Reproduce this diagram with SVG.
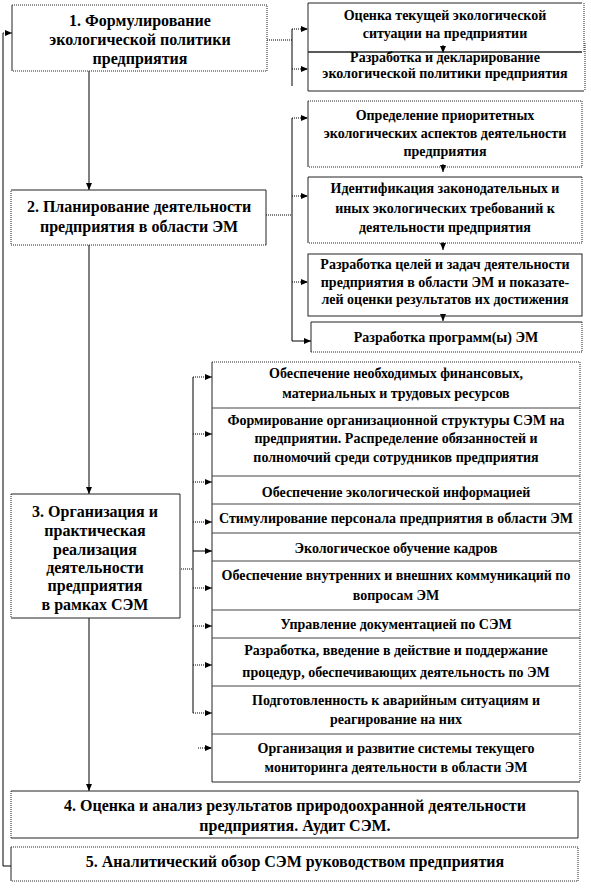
<svg xmlns="http://www.w3.org/2000/svg" width="591" height="888" viewBox="0 0 591 888" font-family="'Liberation Serif', 'DejaVu Serif', serif">
<style>
text{font-family:'Liberation Serif','DejaVu Serif',serif}
.t{font-weight:bold;fill:#000;text-anchor:middle}
.L{font-size:16px}
.R{font-size:14px}
.b{fill:#fff;stroke:none}
.s{stroke:#222;stroke-width:1;fill:none}
.d{stroke:#222;stroke-width:1;fill:none;stroke-dasharray:1 1}
.sep{stroke:#444;stroke-width:1.2}
.c{stroke:#000;stroke-width:1;fill:none}
.cd{stroke:#000;stroke-width:1;fill:none;stroke-dasharray:1 1}
</style>
<defs>
<marker id="ah" markerUnits="userSpaceOnUse" markerWidth="7" markerHeight="6" refX="7" refY="3" orient="auto">
<path d="M0,0 L7,3 L0,6 z" fill="#000"/>
</marker>
<marker id="dn" markerUnits="userSpaceOnUse" markerWidth="6" markerHeight="7" refX="3" refY="7" orient="0">
<path d="M0,0 L6,0 L3,7 z" fill="#000"/>
</marker>
</defs>
<rect width="591" height="888" fill="#fff"/>

<g id="connectors">
<path class="c" d="M11,866 H3 V33"/>
<path class="cd" d="M3,33 H12" marker-end="url(#ah)"/>
<path class="c" d="M89,71 V190" marker-end="url(#dn)"/>
<path class="cd" d="M267,40 H292"/>
<path class="c" d="M292,29 V86"/>
<path class="cd" d="M292,29 H308" marker-end="url(#ah)"/>
<path class="cd" d="M292,69 H308" marker-end="url(#ah)"/>
<path class="c" d="M443,45 V53" marker-end="url(#dn)"/>
<path class="cd" d="M266,215 H292"/>
<path class="c" d="M292,118 V341"/>
<path class="cd" d="M292,118 H308" marker-end="url(#ah)"/>
<path class="cd" d="M292,196 H308" marker-end="url(#ah)"/>
<path class="cd" d="M292,282 H308" marker-end="url(#ah)"/>
<path class="c" d="M292,341 H311" marker-end="url(#ah)"/>
<path class="c" d="M443,164 V172" marker-end="url(#dn)"/>
<path class="c" d="M443,242 V250" marker-end="url(#dn)"/>
<path class="c" d="M443,314 V321" marker-end="url(#dn)"/>
<path class="c" d="M89,245 V494" marker-end="url(#dn)"/>
<path class="cd" d="M181,569 H193"/>
<path class="c" d="M193,377 V713"/>
<path class="cd" d="M193,377 H212" marker-end="url(#ah)"/>
<path class="cd" d="M193,434 H212" marker-end="url(#ah)"/>
<path class="cd" d="M193,482 H212" marker-end="url(#ah)"/>
<path class="cd" d="M193,522 H212" marker-end="url(#ah)"/>
<path class="c" d="M193,551 H212" marker-end="url(#ah)"/>
<path class="cd" d="M193,588 H212" marker-end="url(#ah)"/>
<path class="cd" d="M193,626 H212" marker-end="url(#ah)"/>
<path class="cd" d="M193,665 H212" marker-end="url(#ah)"/>
<path class="cd" d="M193,713 H212" marker-end="url(#ah)"/>
<path class="cd" d="M198,748 H212" marker-end="url(#ah)"/>
<path class="c" d="M89,618 V791" marker-end="url(#dn)"/>
</g>

<g id="node1">
<rect class="b" x="12" y="5" width="255" height="66"/>
<path class="d" d="M12,5 H267 V71 H12"/><path class="s" d="M12,5 V71"/>
<text class="t L" x="140" y="26">1. Формулирование</text>
<text class="t L" x="140" y="45">экологической политики</text>
<text class="t L" x="140" y="64">предприятия</text>
</g>

<g id="nodeA">
<path class="s" d="M582,52 H308 V3 H582"/><path class="d" d="M584,3 V52"/>
<text class="t R" x="445" y="20">Оценка текущей экологической</text>
<text class="t R" x="445" y="38">ситуации на предприятии</text>
</g>
<g id="nodeB">
<path class="s" d="M582,52 H308 V91 H584"/><path class="d" d="M585,43 V91"/>
<text class="t R" x="445" y="62">Разработка и декларирование</text>
<text class="t R" x="445" y="78">экологической политики предприятия</text>
</g>

<g id="node2">
<rect class="b" x="11" y="190" width="255" height="55"/>
<path class="s" d="M11,190 H266 V245"/><path class="d" d="M266,245 H11 V190"/>
<text class="t L" x="139" y="212">2. Планирование деятельности</text>
<text class="t L" x="139" y="232">предприятия в области ЭМ</text>
</g>

<g id="nodeC">
<path class="s" d="M308,101 V167"/><path class="d" d="M308,101 H582 V167 H308"/>
<text class="t R" x="445" y="120">Определение приоритетных</text>
<text class="t R" x="445" y="138">экологических аспектов деятельности</text>
<text class="t R" x="445" y="156">предприятия</text>
</g>
<g id="nodeD">
<path class="s" d="M308,243 V177 H582"/><path class="d" d="M582,177 V243 H308"/>
<text class="t R" x="445" y="193">Идентификация законодательных и</text>
<text class="t R" x="445" y="213">иных экологических требований к</text>
<text class="t R" x="445" y="232">деятельности предприятия</text>
</g>
<g id="nodeE">
<rect class="s" x="308" y="254" width="274" height="62"/>
<text class="t R" x="445" y="269">Разработка целей и задач деятельности</text>
<text class="t R" x="445" y="287">предприятия в области ЭМ и показате-</text>
<text class="t R" x="445" y="304">лей оценки результатов их достижения</text>
</g>
<g id="nodeF">
<path class="s" d="M311,352 V322 H582"/><path class="d" d="M582,322 V352 H311"/>
<text class="t R" x="446" y="342">Разработка программ(ы) ЭМ</text>
</g>

<g id="node3">
<rect class="b" x="11" y="494" width="169" height="124"/>
<path class="s" d="M11,494 H180 V618 H11"/><path class="d" d="M11,494 V618"/>
<text class="t L" x="95" y="517">3. Организация и</text>
<text class="t L" x="95" y="536">практическая</text>
<text class="t L" x="95" y="555">реализация</text>
<text class="t L" x="95" y="573">деятельности</text>
<text class="t L" x="95" y="591">предприятия</text>
<text class="t L" x="95" y="610">в рамках СЭМ</text>
</g>

<g id="stack">
<path class="d" d="M212,362 H580 V782"/>
<path class="s" d="M212,362 V782 H580"/>
<path class="sep" d="M212,408 H580 M212,476 H580 M212,504 H580 M212,533 H580 M212,561 H580 M212,610 H580 M212,638 H580 M212,686 H580 M212,734 H580"/>
</g>
<g id="row1">
<text class="t R" x="396" y="378">Обеспечение необходимых финансовых,</text>
<text class="t R" x="396" y="398">материальных и трудовых ресурсов</text>
</g>
<g id="row2">
<text class="t R" x="396" y="425">Формирование организационной структуры СЭМ на</text>
<text class="t R" x="396" y="443">предприятии. Распределение обязанностей и</text>
<text class="t R" x="396" y="462">полномочий среди сотрудников предприятия</text>
</g>
<g id="row3"><text class="t R" x="396" y="497">Обеспечение экологической информацией</text></g>
<g id="row4"><text class="t R" x="396" y="523">Стимулирование персонала предприятия в области ЭМ</text></g>
<g id="row5"><text class="t R" x="396" y="553">Экологическое обучение кадров</text></g>
<g id="row6">
<text class="t R" x="396" y="580">Обеспечение внутренних и внешних коммуникаций по</text>
<text class="t R" x="396" y="600">вопросам ЭМ</text>
</g>
<g id="row7"><text class="t R" x="396" y="629">Управление документацией по СЭМ</text></g>
<g id="row8">
<text class="t R" x="396" y="655">Разработка, введение в действие и поддержание</text>
<text class="t R" x="396" y="677">процедур, обеспечивающих деятельность по ЭМ</text>
</g>
<g id="row9">
<text class="t R" x="396" y="705">Подготовленность к аварийным ситуациям и</text>
<text class="t R" x="396" y="724">реагирование на них</text>
</g>
<g id="row10">
<text class="t R" x="396" y="753">Организация и развитие системы текущего</text>
<text class="t R" x="396" y="772">мониторинга деятельности в области ЭМ</text>
</g>

<g id="node4">
<rect class="b" x="11" y="791" width="567" height="47"/>
<path class="s" d="M11,791 H578 V838 H11"/><path class="d" d="M11,791 V838"/>
<text class="t L" x="295" y="811">4. Оценка и анализ результатов природоохранной деятельности</text>
<text class="t L" x="295" y="831">предприятия. Аудит СЭМ.</text>
</g>

<g id="node5">
<rect class="b" x="11" y="847" width="567" height="34"/>
<path class="s" d="M11,847 V881"/><path class="d" d="M11,847 H578 V881 H11"/>
<text class="t L" x="295" y="867">5. Аналитический обзор СЭМ руководством предприятия</text>
</g>
</svg>
